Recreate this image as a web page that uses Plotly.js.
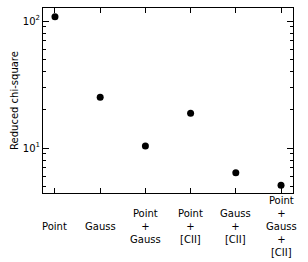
<!DOCTYPE html>
<html>
<head>
<meta charset="utf-8">
<script src="https://cdn.plot.ly/plotly-3.0.1.min.js"></script>
<style>html,body{margin:0;padding:0;background:#fff}#chart{width:308px;height:262px}</style>
</head>
<body>
<div id="chart"></div>
<script>
var models = ["Point", "Gauss", "Point+Gauss", "Point+[CII]", "Gauss+[CII]", "Point+Gauss+[CII]"];
var modelLabels = ["Point", "Gauss", "Point<br>+<br>Gauss", "Point<br>+<br>[CII]", "Gauss<br>+<br>[CII]", "Point<br>+<br>Gauss<br>+<br>[CII]"];
var chiSquare = [108, 25.1, 10.4, 18.8, 6.4, 5.1];
var majorTicks = [10, 100];
var majorTickText = ["10<sup>1</sup>", "10<sup>2</sup>"];
var minorTicks = [5, 6, 7, 8, 9, 20, 30, 40, 50, 60, 70, 80, 90];

var idx = models.map(function (m, i) { return i; });

var font = {family: "DejaVu Sans", size: 10, color: "#000"};

var annotations = modelLabels.map(function (t, i) {
  return {x: i, xref: "x", y: -0.18, yref: "paper", yanchor: "middle", xanchor: "center",
          text: t, showarrow: false, align: "center", font: font};
});

Plotly.newPlot("chart", [{
  x: idx, y: chiSquare, type: "scatter", mode: "markers",
  marker: {color: "#000", size: 7}
}], {
  width: 308, height: 262,
  margin: {l: 43, r: 15, t: 8, b: 69},
  paper_bgcolor: "#fff", plot_bgcolor: "#fff",
  showlegend: false,
  font: font,
  xaxis: {
    range: [-0.265, 5.265], tickmode: "array", tickvals: idx, showticklabels: false,
    ticks: "inside", ticklen: 5, tickcolor: "#000", showgrid: false, zeroline: false,
    showline: true, linecolor: "#000", linewidth: 1, mirror: "allticks"
  },
  yaxis: {
    type: "log", range: [Math.log10(4.43), Math.log10(126.6)],
    tickmode: "array", tickvals: majorTicks, ticktext: majorTickText,
    ticks: "inside", ticklen: 6, tickcolor: "#000", showgrid: false, zeroline: false,
    showline: true, linecolor: "#000", linewidth: 1, mirror: "allticks",
    minor: {tickmode: "array", tickvals: minorTicks, ticks: "inside", ticklen: 3, tickcolor: "#000", showgrid: false},
    title: {text: "Reduced chi-square", font: font, standoff: 2},
    tickfont: font
  },
  annotations: annotations
}, {staticPlot: true});
</script>
</body>
</html>
